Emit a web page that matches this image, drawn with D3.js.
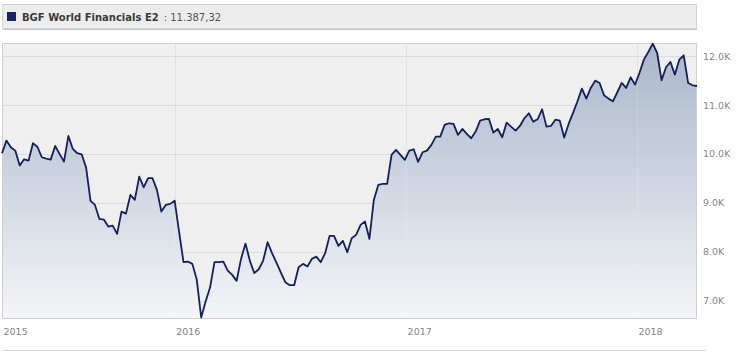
<!DOCTYPE html>
<html>
<head>
<meta charset="utf-8">
<script src="https://cdn.jsdelivr.net/npm/d3@7"></script>
<style>
  body { margin: 0; background: #ffffff; }
  svg { display: block; font-family: "DejaVu Sans", Verdana, sans-serif; }
</style>
</head>
<body>
<div id="chart"></div>
<script>
// Series name and last value shown in the legend
const seriesName = "BGF World Financials E2";
const lastValueLabel = ": 11.387,32";

// Weekly closing values
const values = [
  10014, 10272, 10136, 10068, 9762, 9891, 9864, 10218, 10143, 9932,
  9905, 9884, 10163, 10000, 9843, 10367, 10102, 10014, 9993, 9721,
  9041, 8959, 8673, 8660, 8517, 8537, 8367, 8823, 8782, 9163,
  9061, 9537, 9320, 9504, 9504, 9265, 8823, 8959, 8980, 9047,
  8415, 7789, 7803, 7755, 7429, 6660, 6986, 7272, 7789, 7789,
  7803, 7619, 7531, 7408, 7857, 8170, 7816, 7565, 7646, 7823,
  8197, 7973, 7782, 7578, 7381, 7320, 7320, 7687, 7755, 7701,
  7857, 7904, 7789, 7973, 8327, 8327, 8122, 8224, 7993, 8279,
  8347, 8551, 8619, 8265, 9061, 9367, 9388, 9388, 9980, 10082,
  9980, 9878, 10068, 10095, 9837, 10034, 10068, 10184, 10354, 10354,
  10592, 10626, 10612, 10388, 10510, 10408, 10320, 10456, 10680, 10708,
  10714, 10435, 10510, 10340, 10639, 10558, 10476, 10571, 10728, 10830,
  10660, 10708, 10912, 10558, 10571, 10700, 10680, 10335, 10612, 10837,
  11075, 11333, 11129, 11347, 11496, 11449, 11197, 11129, 11075, 11259,
  11449, 11347, 11565, 11415, 11653, 11925, 12082, 12251, 12061, 11504,
  11769, 11878, 11619, 11925, 12014, 11449, 11402, 11387
];

// First weekly date of the series
const startDate = new Date(2015, 3, 3);
const dates = values.map((v, i) => d3.timeDay.offset(startDate, i * 7));

// Axis ticks
const yTicks = [7000, 8000, 9000, 10000, 11000, 12000];
const yearStarts = [new Date(2016, 0, 1), new Date(2017, 0, 1), new Date(2018, 0, 1)];
const xTickLabels = ["2015", "2016", "2017", "2018"];

const data = dates.map((d, i) => ({ date: d, value: values[i] }));

const W = 744, H = 359;
const plot = { left: 2, right: 697, top: 43, bottom: 318 };

const svg = d3.select("#chart")
    .append("svg")
    .attr("width", W)
    .attr("height", H);

// Legend bar
svg.append("rect")
    .attr("x", 2.5).attr("y", 4.5)
    .attr("width", 694).attr("height", 24)
    .attr("fill", "#ececec")
    .attr("stroke", "#d4d4d4");
svg.append("line")
    .attr("x1", 3).attr("x2", 697)
    .attr("y1", 29.5).attr("y2", 29.5)
    .attr("stroke", "#c4c4c4");

svg.append("rect")
    .attr("x", 7).attr("y", 12)
    .attr("width", 9).attr("height", 9)
    .attr("fill", "#1b2462");

const legendText = svg.append("text")
    .attr("x", 22).attr("y", 20.5)
    .style("font-size", "10px")
    .attr("fill", "#3a3a3a");
legendText.append("tspan")
    .style("font-weight", "bold")
    .text(seriesName);
legendText.append("tspan")
    .attr("dx", 5)
    .attr("fill", "#555")
    .text(lastValueLabel);

// Scales
const xScale = d3.scaleTime()
    .domain(d3.extent(dates))
    .range([plot.left, plot.right]);

const yScale = d3.scaleLinear()
    .domain([6650, 12265])
    .range([plot.bottom, plot.top]);

// Plot background
svg.append("rect")
    .attr("x", plot.left).attr("y", plot.top)
    .attr("width", plot.right - plot.left)
    .attr("height", plot.bottom - plot.top)
    .attr("fill", "#efefef");

// Gridlines
svg.append("g")
    .selectAll("line")
    .data(yTicks)
    .enter()
    .append("line")
    .attr("x1", plot.left).attr("x2", plot.right)
    .attr("y1", d => Math.round(yScale(d)) + 0.5)
    .attr("y2", d => Math.round(yScale(d)) + 0.5)
    .attr("stroke", "#dcdcdc");

svg.append("g")
    .selectAll("line")
    .data(yearStarts)
    .enter()
    .append("line")
    .attr("x1", d => Math.round(xScale(d)) + 0.5)
    .attr("x2", d => Math.round(xScale(d)) + 0.5)
    .attr("y1", plot.top).attr("y2", plot.bottom)
    .attr("stroke", "#dcdcdc");

// Area gradient
const grad = svg.append("defs").append("linearGradient")
    .attr("id", "areaGrad")
    .attr("gradientUnits", "userSpaceOnUse")
    .attr("x1", 0).attr("x2", 0)
    .attr("y1", plot.top).attr("y2", plot.bottom);
grad.append("stop").attr("offset", "0%").attr("stop-color", "#a2b1c7");
grad.append("stop").attr("offset", "100%").attr("stop-color", "#f4f5f8");

const area = d3.area()
    .x(d => xScale(d.date))
    .y0(plot.bottom)
    .y1(d => yScale(d.value));

svg.append("path")
    .datum(data)
    .attr("d", area)
    .attr("fill", "url(#areaGrad)")
    .attr("fill-opacity", 0.92);

// light year lines showing through the area
svg.append("g")
    .selectAll("line")
    .data(yearStarts)
    .enter()
    .append("line")
    .attr("x1", d => Math.round(xScale(d)) + 0.5)
    .attr("x2", d => Math.round(xScale(d)) + 0.5)
    .attr("y1", plot.top).attr("y2", plot.bottom)
    .attr("stroke", "#ffffff")
    .attr("stroke-opacity", 0.18);

// Plot border (left and bottom, top, right)
svg.append("rect")
    .attr("x", plot.left + 0.5).attr("y", plot.top + 0.5)
    .attr("width", plot.right - plot.left - 1)
    .attr("height", plot.bottom - plot.top)
    .attr("fill", "none")
    .attr("stroke", "#cfcfcf");

// Line
const line = d3.line()
    .x(d => xScale(d.date))
    .y(d => yScale(d.value));

svg.append("path")
    .datum(data)
    .attr("d", line)
    .attr("fill", "none")
    .attr("stroke", "#13205b")
    .attr("stroke-width", 1.8)
    .attr("stroke-linejoin", "round");

// Y axis on the right
const yAxis = svg.append("g")
    .attr("transform", "translate(" + plot.right + ",0)")
    .call(d3.axisRight(yScale)
        .tickValues(yTicks)
        .tickSize(0)
        .tickPadding(6)
        .tickFormat(d => (d / 1000).toFixed(1) + "K"));
yAxis.select(".domain").remove();
yAxis.selectAll("text")
    .attr("fill", "#858585")
    .style("font-size", "9.5px")
    .style("font-family", "\"DejaVu Sans\", Verdana, sans-serif");

// X axis labels
const xTickDates = [startDate].concat(yearStarts);
const xAxis = svg.append("g")
    .attr("transform", "translate(0," + plot.bottom + ")")
    .call(d3.axisBottom(xScale)
        .tickValues(xTickDates)
        .tickSize(0)
        .tickPadding(10)
        .tickFormat((d, i) => xTickLabels[i]));
xAxis.select(".domain").remove();
xAxis.selectAll("text")
    .attr("fill", "#858585")
    .attr("dx", 1)
    .style("text-anchor", "start")
    .style("font-size", "9.5px")
    .style("font-family", "\"DejaVu Sans\", Verdana, sans-serif");

// Bottom rule
svg.append("line")
    .attr("x1", 2).attr("x2", 706)
    .attr("y1", 350.5).attr("y2", 350.5)
    .attr("stroke", "#d6d6d6");
</script>
</body>
</html>
